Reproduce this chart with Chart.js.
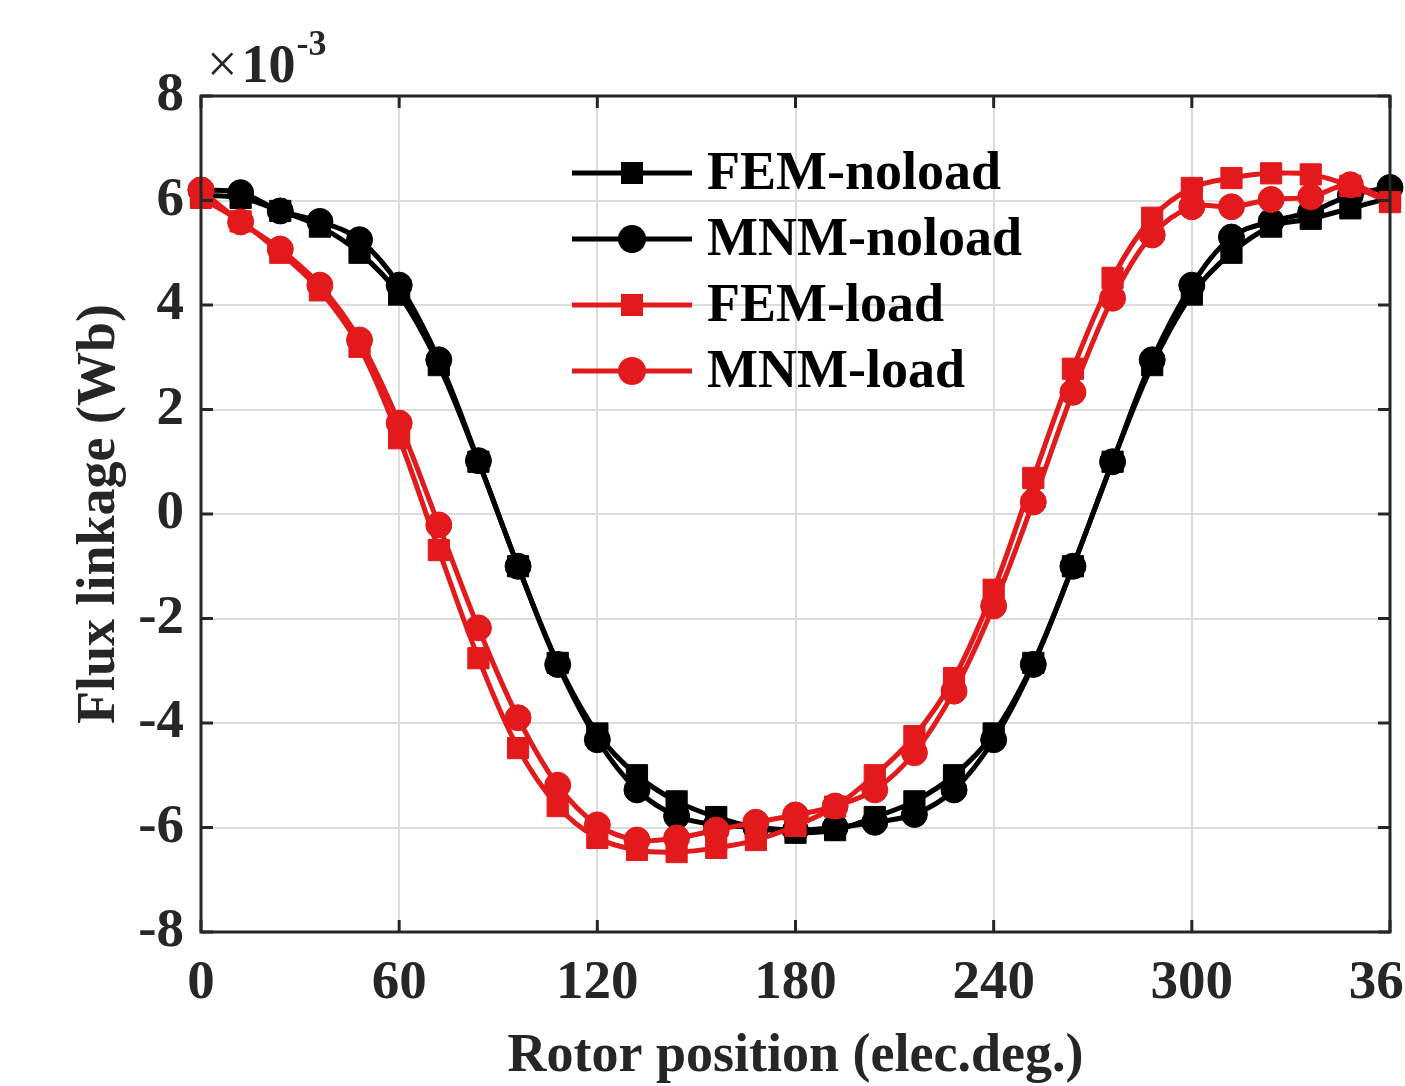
<!DOCTYPE html>
<html>
<head>
<meta charset="utf-8">
<script src="https://cdn.jsdelivr.net/npm/chart.js@4/dist/chart.umd.min.js"></script>
<style>
  html, body { margin: 0; padding: 0; background: #fff; overflow: hidden; }
  #wrap { width: 1440px; height: 1086px; }
</style>
</head>
<body>
<div id="wrap"><canvas id="c" width="1440" height="1086"></canvas></div>
<script>
// ---- data (values in units of 1e-3 Wb) ----
const positions = [0,12,24,36,48,60,72,84,96,108,120,132,144,156,168,180,192,204,216,228,240,252,264,276,288,300,312,324,336,348,360];
const femNoload = [6.1,6.05,5.8,5.5,5.0,4.2,2.85,1.0,-1.0,-2.85,-4.2,-5.0,-5.5,-5.8,-6.0,-6.1,-6.05,-5.8,-5.5,-5.0,-4.2,-2.85,-1.0,1.0,2.85,4.2,5.0,5.5,5.65,5.85,6.05];
const mnmNoload = [6.2,6.15,5.8,5.6,5.25,4.38,2.95,1.02,-1.0,-2.88,-4.32,-5.28,-5.78,-5.95,-6.0,-6.05,-6.0,-5.9,-5.75,-5.28,-4.32,-2.88,-1.0,1.0,2.95,4.38,5.3,5.6,5.78,6.1,6.25];
const femLoad = [6.05,5.6,5.0,4.28,3.2,1.45,-0.69,-2.76,-4.48,-5.59,-6.2,-6.43,-6.47,-6.39,-6.24,-5.97,-5.6,-5.0,-4.25,-3.14,-1.45,0.69,2.78,4.52,5.67,6.24,6.43,6.52,6.5,6.28,5.97];
const mnmLoad = [6.2,5.59,5.07,4.38,3.33,1.74,-0.21,-2.18,-3.9,-5.19,-5.95,-6.24,-6.2,-6.05,-5.9,-5.76,-5.59,-5.28,-4.57,-3.39,-1.76,0.23,2.33,4.13,5.34,5.88,5.88,6.02,6.07,6.3,5.97];
const seriesLabels = ['FEM-noload','MNM-noload','FEM-load','MNM-load'];
const xTicks = [0,60,120,180,240,300,360];
const yTicks = [-8,-6,-4,-2,0,2,4,6,8];
const xTitle = 'Rotor position (elec.deg.)';
const yTitle = 'Flux linkage (Wb)';

const RED = '#e31a1c';
const BLACK = '#000000';
const AXIS = '#262626';
const SERIF = '"Liberation Serif", "Times New Roman", serif';

function ds(label, data, color, style, order, hideLast) {
  const r = style === 'rect' ? 15 : 13;
  return {
    label, data: positions.map((p, i) => ({x: p, y: data[i]})),
    borderColor: color, backgroundColor: color,
    borderWidth: 5, pointStyle: style,
    pointRadius: hideLast ? positions.map((p, i) => i === positions.length - 1 ? 0 : r) : r,
    pointBorderWidth: 1, pointBorderColor: color, pointBackgroundColor: color,
    tension: 0.35, order, clip: false
  };
}

const legendAndFrame = {
  id: 'legendAndFrame',
  afterDraw(chart) {
    const ctx = chart.ctx;
    const a = chart.chartArea;
    const xs = chart.scales.x, ys = chart.scales.y;
    ctx.save();
    // frame
    ctx.strokeStyle = AXIS;
    ctx.lineWidth = 3;
    ctx.strokeRect(a.left, a.top, a.right - a.left, a.bottom - a.top);
    // inner ticks on all sides
    const tl = 12;
    ctx.beginPath();
    xTicks.forEach(v => {
      const px = xs.getPixelForValue(v);
      ctx.moveTo(px, a.bottom); ctx.lineTo(px, a.bottom - tl);
      ctx.moveTo(px, a.top); ctx.lineTo(px, a.top + tl);
    });
    yTicks.forEach(v => {
      const py = ys.getPixelForValue(v);
      ctx.moveTo(a.left, py); ctx.lineTo(a.left + tl, py);
      ctx.moveTo(a.right, py); ctx.lineTo(a.right - tl, py);
    });
    ctx.stroke();
    // exponent label
    ctx.fillStyle = AXIS;
    ctx.textBaseline = 'alphabetic';
    ctx.textAlign = 'left';
    ctx.font = '54px ' + SERIF;
    ctx.fillText('\u00d7', 207, 82);
    const wx = ctx.measureText('\u00d7').width;
    ctx.font = 'bold 54px ' + SERIF;
    ctx.fillText('10', 207 + wx + 4, 82);
    const w10 = ctx.measureText('10').width;
    ctx.font = 'bold 36px ' + SERIF;
    ctx.fillText('-3', 207 + wx + 4 + w10 + 1, 55);
    // legend
    const rows = [173, 239, 305, 371];
    chart.data.datasets.forEach((d, i) => {
      const y = rows[i];
      ctx.strokeStyle = d.borderColor;
      ctx.lineWidth = 5;
      ctx.beginPath(); ctx.moveTo(572, y); ctx.lineTo(692, y); ctx.stroke();
      ctx.fillStyle = d.borderColor;
      ctx.beginPath();
      if (d.pointStyle === 'rect') {
        ctx.rect(632 - 11, y - 11, 22, 22);
      } else {
        ctx.arc(632, y, 14, 0, Math.PI * 2);
      }
      ctx.fill();
      ctx.fillStyle = '#000';
      ctx.font = 'bold 54px ' + SERIF;
      ctx.textBaseline = 'middle';
      ctx.fillText(d.label, 707, y + 2);
    });
    ctx.restore();
  }
};

new Chart(document.getElementById('c'), {
  type: 'line',
  data: {
    datasets: [
      ds(seriesLabels[0], femNoload, BLACK, 'rect', 4, false),
      ds(seriesLabels[1], mnmNoload, BLACK, 'circle', 3, false),
      ds(seriesLabels[2], femLoad, RED, 'rect', 2, false),
      ds(seriesLabels[3], mnmLoad, RED, 'circle', 1, true)
    ]
  },
  options: {
    responsive: false,
    animation: false,
    devicePixelRatio: 1,
    layout: { padding: { left: 0, top: 96, right: 50, bottom: 0 } },
    plugins: { legend: { display: false }, tooltip: { enabled: false } },
    scales: {
      x: {
        type: 'linear', min: 0, max: 360,
        afterBuildTicks: s => { s.ticks = xTicks.map(v => ({value: v})); },
        afterFit: s => { s.height = 154; s.paddingLeft = 0; s.paddingRight = 0; },
        grid: { color: '#dcdcdc', lineWidth: 2, drawTicks: false },
        border: { display: false },
        ticks: { color: AXIS, padding: 19, maxRotation: 0, autoSkip: false,
                 font: { family: SERIF, size: 55, weight: 'bold' } },
        title: { display: true, text: xTitle, color: AXIS,
                 font: { family: SERIF, size: 54, weight: 'bold', lineHeight: 1.0 },
                 padding: { top: 0, bottom: 2 } }
      },
      y: {
        type: 'linear', min: -8, max: 8,
        afterBuildTicks: s => { s.ticks = yTicks.map(v => ({value: v})); },
        afterFit: s => { s.width = 201; s.paddingTop = 0; s.paddingBottom = 0; },
        grid: { color: '#dcdcdc', lineWidth: 2, drawTicks: false },
        border: { display: false },
        ticks: { color: AXIS, padding: 17, autoSkip: false,
                 font: { family: SERIF, size: 55, weight: 'bold' } },
        title: { display: true, text: yTitle, color: AXIS,
                 font: { family: SERIF, size: 54, weight: 'bold', lineHeight: 1.0 },
                 padding: { top: 73, bottom: 0 } }
      }
    }
  },
  plugins: [legendAndFrame]
});
</script>
</body>
</html>
